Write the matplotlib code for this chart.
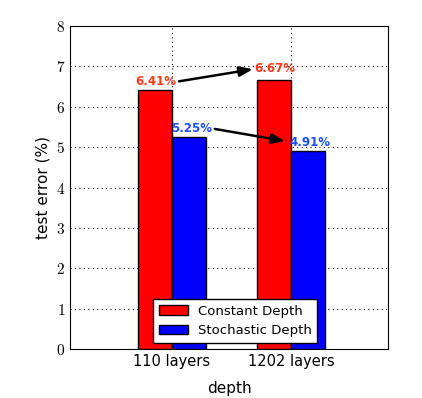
import matplotlib
matplotlib.use("Agg")
import matplotlib.pyplot as plt
import numpy as np

plt.rcParams["mathtext.fontset"] = "cm"

depths = ["110 layers", "1202 layers"]
constant_depth = [6.41, 6.67]
stochastic_depth = [5.25, 4.91]

x = np.arange(len(depths))
width = 0.286

fig = plt.figure(figsize=(4.22, 3.98), dpi=100)
ax = fig.add_axes([70 / 422, 1 - 349 / 398, 318 / 422, 323 / 398])

ax.bar(x - width / 2, constant_depth, width, color="#ff0000", edgecolor="black",
       linewidth=1, label="Constant Depth", zorder=2)
ax.bar(x + width / 2, stochastic_depth, width, color="#0000ff", edgecolor="black",
       linewidth=1, label="Stochastic Depth", zorder=2)

ax.set_xlim(-0.857, 1.815)
ax.set_ylim(0, 8)
ax.set_xticks(x)
ax.set_xticklabels(depths, fontsize=10.5)
ax.set_yticks(range(9))
ax.set_yticklabels([f"${v}$" for v in range(9)], fontsize=11)
ax.tick_params(length=0)
ax.grid(True, color="black", linestyle=(0, (1, 3)), linewidth=0.8, zorder=0)
ax.set_axisbelow(True)

ax.set_ylabel("test error (%)", fontsize=11)
ax.set_xlabel("depth", fontsize=11, labelpad=9)

red_txt = "#ff3b1f"
blue_txt = "#1f4fff"
for xi, v, dy in zip(x, constant_depth, [0.22, 0.28]):
    ax.text(xi - width / 2 + 0.01, v + dy, f"{v:.2f}%", color=red_txt, fontsize=8.5,
            fontweight="bold", ha="center", va="center", zorder=4)
for xi, v, dy in zip(x, stochastic_depth, [0.22, 0.21]):
    ax.text(xi + width / 2 + 0.02, v + dy, f"{v:.2f}%", color=blue_txt, fontsize=8.5,
            fontweight="bold", ha="center", va="center", zorder=4)

arrow = dict(arrowstyle="-|>,head_length=0.8,head_width=0.3", color="black",
             lw=1.8, shrinkA=0, shrinkB=0)
ax.annotate("", xy=(0.68, constant_depth[1] + 0.26),
            xytext=(0.06, constant_depth[0] + 0.22),
            arrowprops=arrow, zorder=5)
ax.annotate("", xy=(0.95, stochastic_depth[1] + 0.24),
            xytext=(0.36, stochastic_depth[0] + 0.2),
            arrowprops=arrow, zorder=5)

ax.legend(loc="lower center", fontsize=9.5, frameon=True, fancybox=False,
          edgecolor="black", framealpha=1, borderaxespad=0.0,
          handlelength=2.2, bbox_to_anchor=(0.52, 0.02))

fig.savefig("out.png", dpi=100, facecolor="white")
